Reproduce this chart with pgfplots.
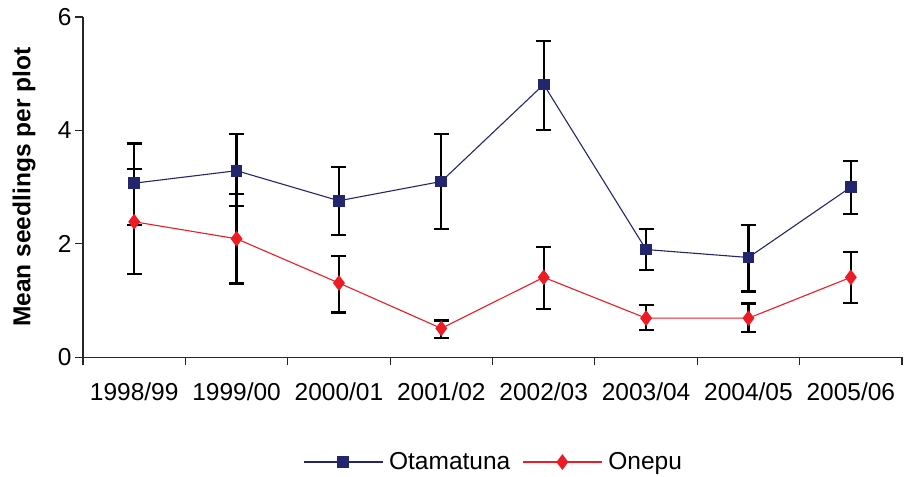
\documentclass[border=0pt]{standalone}
\usepackage{fontspec}
\setmainfont{Liberation Sans}
\usepackage{pgfplots}
\pgfplotsset{compat=1.18}
\usepackage{pgfplotstable}
\definecolor{navy}{HTML}{23266F}
\definecolor{exred}{HTML}{ED1C24}
\newcommand\bigf{\fontsize{24.5bp}{29bp}\selectfont}

\pgfplotstableread{
x y ep em
0 3.07 0.70 0.74
1 3.29 0.65 0.62
2 2.76 0.60 0.60
3 3.10 0.84 0.84
4 4.81 0.77 0.80
5 1.90 0.36 0.36
6 1.76 0.57 0.60
7 3.00 0.46 0.47
}\otam

\pgfplotstableread{
x y ep em
0 2.39 0.93 0.92
1 2.09 0.79 0.79
2 1.31 0.47 0.52
3 0.51 0.14 0.17
4 1.41 0.54 0.56
5 0.69 0.23 0.21
6 0.69 0.26 0.25
7 1.41 0.44 0.45
}\onep

\begin{document}
\begin{tikzpicture}
\begin{axis}[name=ax, scale only axis, width=819bp, height=340.3bp,
  xmin=-0.5, xmax=7.5, ymin=0, ymax=6,
  axis lines=left, axis line style={-, line width=1.2bp, black!85},
  xtick={-0.5,0.5,...,7.5}, x tick label as interval,
  xticklabels={1998/99,1999/00,2000/01,2001/02,2002/03,2003/04,2004/05,2005/06},
  ytick={0,2,4,6},
  tick align=outside, tick style={line width=1.2bp, black!85},
  major tick length=8bp,
  /pgf/number format/assume math mode=true,
  tick label style={font=\bigf},
  xticklabel style={yshift=-14bp},
  ylabel={Mean seedlings per plot},
  ylabel style={font=\bigf\bfseries, at={(axis description cs:-0.072,0.5)}, anchor=center},
  legend columns=2,
  legend style={draw=none, fill=none, font=\bigf, at={(axis description cs:0.5,-0.3077)}, anchor=center,
    nodes={inner sep=0bp},
    /tikz/every odd column/.append style={column sep=6bp},
    /tikz/every even column/.append style={column sep=12bp}},
  legend image code/.code={\draw[mark repeat=2,mark phase=2] plot coordinates {(0bp,0bp) (39.5bp,0bp) (79bp,0bp)};},
  clip=false,
]
\addplot[navy, line width=1.1bp, mark=square*, mark size=5.3bp, mark options={solid, fill=navy, draw=navy},
  error bars/.cd, y dir=both, y explicit,
  error bar style={black, line width=2.2bp},
  error mark options={rotate=90, mark size=7.5bp, line width=2.2bp, black}]
  table[x=x, y=y, y error plus=ep, y error minus=em] {\otam};
\addlegendentry{Otamatuna}
\addplot[exred, line width=1.1bp, mark=diamond*, mark size=7bp, mark options={solid, fill=exred, draw=exred},
  error bars/.cd, y dir=both, y explicit,
  error bar style={black, line width=2.2bp},
  error mark options={rotate=90, mark size=7.5bp, line width=2.2bp, black}]
  table[x=x, y=y, y error plus=ep, y error minus=em] {\onep};
\addlegendentry{Onepu}
\end{axis}
\pgfresetboundingbox
\path[use as bounding box] ([xshift=-83bp,yshift=-119.7bp]ax.south west) rectangle ([xshift=5bp,yshift=17bp]ax.north east);
\end{tikzpicture}
\end{document}
